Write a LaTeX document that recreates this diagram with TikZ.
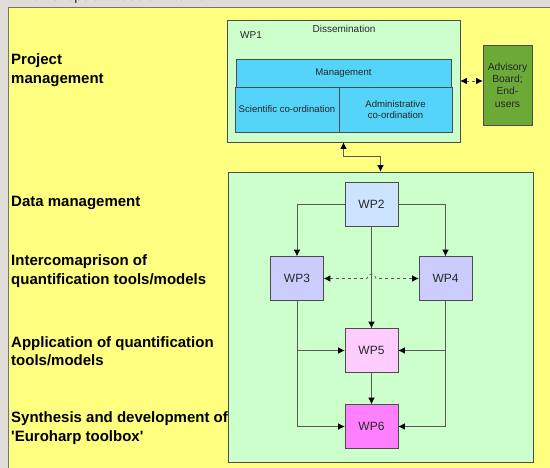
\documentclass[tikz,border=0pt]{standalone}
\usepackage{fontspec}
\setmainfont{Liberation Sans}
\usetikzlibrary{arrows.meta, positioning, calc}
\definecolor{framegrey}{RGB}{224,220,216}
\definecolor{pageyellow}{RGB}{255,255,128}
\definecolor{wpgreen}{RGB}{204,255,204}
\definecolor{mgmtcyan}{RGB}{84,212,248}
\definecolor{advgreen}{RGB}{108,170,56}
\definecolor{wptwo}{RGB}{204,228,255}
\definecolor{wpmid}{RGB}{204,204,255}
\definecolor{wpfive}{RGB}{255,204,255}
\definecolor{wpsix}{RGB}{255,128,255}

\begin{document}
\begin{tikzpicture}[
    x=1pt, y=1pt,
    >={Latex[length=6.5pt, width=6.5pt, color=black]},
    box/.style={rectangle, draw=black!70, line width=0.6pt, inner sep=0pt,
                align=center, text=black!85, font=\fontsize{9.6}{11.5}\selectfont},
    wpbox/.style={box, minimum width=53pt, minimum height=44pt,
                  font=\fontsize{12}{14}\selectfont},
    txt/.style={inner sep=0pt, text=black!85, font=\fontsize{10}{12}\selectfont},
    lbl/.style={anchor=west, inner sep=0pt, align=left,
                font=\fontsize{15}{18.5}\selectfont\bfseries},
    link/.style={draw=black!65, line width=0.7pt, ->},
    dlink/.style={link, dashed, <->},
]

% page
\path[fill=framegrey] (0,0) rectangle (550,-468);
\useasboundingbox (0,0) rectangle (550,-468);
\node[anchor=base west, inner sep=0pt, font=\fontsize{14}{16}\selectfont, text=black!85]
     (cut) at (22,-0.5) {workshops and use of Internet.};
\draw[fill=pageyellow, draw=black!55, line width=0.8pt] (8,-7) rectangle (552,-470);

% WP1 block
\node[box, fill=wpgreen, minimum width=233pt, minimum height=122pt] (wp1) at (343.5,-81) {};
\node[txt] (dissem) at (344,-29) {Dissemination};
\node[txt] (wp1lbl) at (251,-35) {WP1};
\node[box, fill=mgmtcyan, minimum width=215pt, minimum height=28pt] (mgmt) at (343.5,-73) {Management};
\node[box, fill=mgmtcyan, minimum width=104pt, minimum height=45pt] (sci) at (287,-109.5) {Scientific co-ordination};
\node[box, fill=mgmtcyan, minimum width=113pt, minimum height=45pt] (admin) at (395.5,-109.5) {Administrative\\co-ordination};

\node[box, fill=advgreen, minimum width=49pt, minimum height=80pt,
      font=\fontsize{10.3}{12.3}\selectfont] (adv) at (507.5,-85) {Advisory\\Board;\\End-\\users};

% WP2--WP6 block
\node[box, fill=wpgreen, minimum width=305pt, minimum height=290pt] (phase) at (380.5,-317) {};
\node[wpbox, fill=wptwo] (wp2) at (371.5,-204) {WP2};
\node[wpbox, fill=wpmid] (wp3) at (297,-278.5) {WP3};
\node[wpbox, fill=wpmid] (wp4) at (445.5,-278.5) {WP4};
\node[wpbox, fill=wpfive] (wp5) at (371.5,-350.5) {WP5};
\node[wpbox, fill=wpsix] (wp6) at (371.5,-426.5) {WP6};

% left column
\node[lbl] (pm) at (11,-70) {Project\\management};
\node[lbl] (dm) at (11,-203) {Data management};
\node[lbl] (ic) at (11,-271) {Intercomaprison of\\quantification tools/models};
\node[lbl] (ap) at (11,-351) {Application of quantification\\tools/models};
\node[lbl] (sy) at (11,-428) {Synthesis and development of\\\textquotesingle Euroharp toolbox\textquotesingle};

% connectors
\draw[dlink] (wp1.east) -- (wp1.east -| adv.west);
\draw[link, <->] (wp1.south) -- ++(0,-14) -| (phase.north);
\draw[link] (wp2.west) -| (wp3.north);
\draw[link] (wp2.east) -| (wp4.north);
\draw[link] (wp2.south) -- (wp5.north);
\draw[dlink] (wp3.east) -- ($(wp2.south |- wp3.east)+(-4.5,0)$)
     arc[start angle=180, end angle=0, radius=4.5] -- (wp4.west);
\draw[link] (wp3.south) |- (wp6.west);
\draw[link] (wp3.south |- wp5.west) -- (wp5.west);
\draw[link] (wp4.south) |- (wp6.east);
\draw[link] (wp4.south |- wp5.east) -- (wp5.east);
\draw[link] (wp5.south) -- (wp6.north);

\end{tikzpicture}
\end{document}
